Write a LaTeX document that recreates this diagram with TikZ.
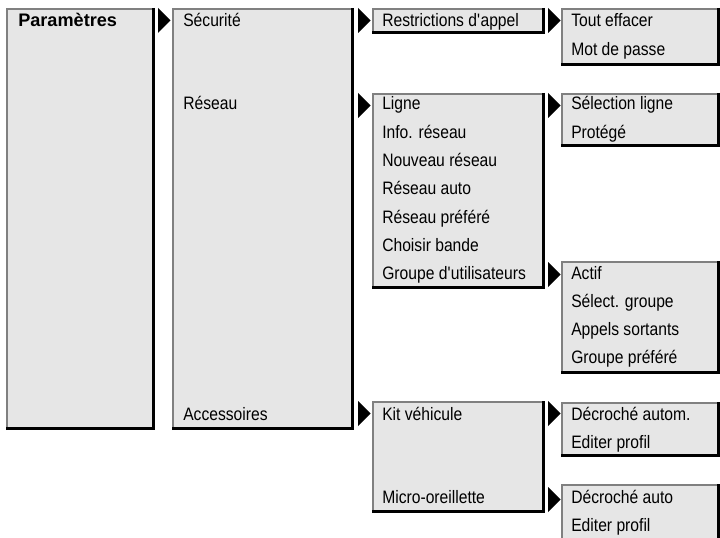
\documentclass[tikz,border=0pt]{standalone}
\usepackage{fontspec}
\setmainfont{Liberation Sans}[FakeStretch=0.87]
\newfontfamily\widefam{Liberation Sans}
\definecolor{boxfill}{RGB}{230,230,230}
\definecolor{edgegray}{RGB}{128,128,128}
\newcommand\menubox[4]{%
  \fill[boxfill] (#1,#2) rectangle (#3,#4);
  \draw[edgegray,line width=1.6pt] (#1+1,#4) -- (#1+1,#2+1) -- (#3,#2+1);
  \draw[black,line width=2.4pt] (#3-1.6,#2) -- (#3-1.6,#4-1.6) -- (#1,#4-1.6);
}
\newcommand\menuarrow[3]{% x top bottom
  \fill[black] (#1,#2) -- (#1+12.5,{(#2+#3)/2}) -- (#1,#3) -- cycle;
}
\begin{document}
\begin{tikzpicture}[x=0.75pt,y=-0.75pt,
  lbl/.style={anchor=base west,inner sep=0pt,font=\fontsize{13.5}{15}\selectfont}]
\useasboundingbox (0,0) rectangle (720,538);
\begin{scope}
\clip (0,0) rectangle (720,538);
% boxes
\menubox{6}{8}{155}{430}
\menubox{172}{8}{354}{430}
\menubox{372}{8}{545}{34}
\menubox{561}{8}{720}{66}
\menubox{372}{93}{545}{289}
\menubox{561}{93}{720}{147}
\menubox{561}{261}{720}{374}
\menubox{372}{401}{545}{513}
\menubox{561}{402}{720}{457}
\menubox{561}{484}{720}{548}
% arrows
\menuarrow{158}{8}{33}
\menuarrow{358}{8}{33}
\menuarrow{548}{8}{33}
\menuarrow{358}{93}{118}
\menuarrow{548}{93}{118}
\menuarrow{548}{262}{287}
\menuarrow{358}{401}{426}
\menuarrow{548}{401}{426}
\menuarrow{548}{487}{512}
\end{scope}
% texts
\node[lbl] (param) at (18,27) {\widefam\fontsize{13.6}{15}\selectfont\bfseries Paramètres};
\node[lbl] (secu) at (183,27) {Sécurité};
\node[lbl] (reseau) at (183,110) {Réseau};
\node[lbl] (acc) at (183,420) {Accessoires};
\node[lbl] (restr) at (382,27) {Restrictions d\textquotesingle appel};
\node[lbl] (tout) at (571,27) {Tout effacer};
\node[lbl] (mdp) at (571,55.3) {Mot de passe};
\node[lbl] (ligne) at (382,110) {Ligne};
\node[lbl] (info) at (382,138.3) {Info. réseau};
\node[lbl] (nouv) at (382,166.6) {Nouveau réseau};
\node[lbl] (rauto) at (382,194.9) {Réseau auto};
\node[lbl] (rpref) at (382,223.2) {Réseau préféré};
\node[lbl] (bande) at (382,251.5) {Choisir bande};
\node[lbl] (groupe) at (382,279.8) {Groupe d\textquotesingle utilisateurs};
\node[lbl] (selligne) at (571,110) {Sélection ligne};
\node[lbl] (protege) at (571,138.3) {Protégé};
\node[lbl] (actif) at (571,279) {Actif};
\node[lbl] (selgr) at (571,307.3) {Sélect. groupe};
\node[lbl] (appels) at (571,335.6) {Appels sortants};
\node[lbl] (grpref) at (571,363.9) {Groupe préféré};
\node[lbl] (kit) at (382,420) {Kit véhicule};
\node[lbl] (micro) at (382,503) {Micro-oreillette};
\node[lbl] (decr1) at (571,420) {Décroché autom.};
\node[lbl] (edit1) at (571,448.3) {Editer profil};
\node[lbl] (decr2) at (571,503) {Décroché auto};
\node[lbl] (edit2) at (571,531.3) {Editer profil};
\end{tikzpicture}
\end{document}
